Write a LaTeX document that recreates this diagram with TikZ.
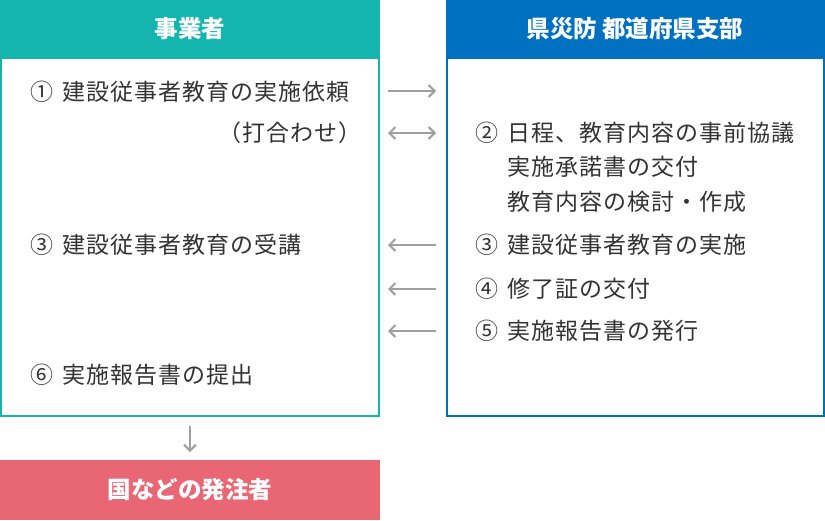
\documentclass[tikz,border=0pt]{standalone}
\usepackage{fontspec}
\setmainfont{Noto Sans CJK JP}
\newfontfamily\bodyfont{Noto Sans CJK JP}[LetterSpace=4.5]
\usetikzlibrary{arrows.meta,positioning}
\definecolor{teal}{HTML}{14B5AE}
\definecolor{pblue}{HTML}{0071C1}
\definecolor{pred}{HTML}{E96775}
\definecolor{agray}{HTML}{A0A0A0}
\definecolor{tgray}{HTML}{333333}
\newcommand{\numbox}[1]{\makebox[32pt][l]{#1}}

\begin{document}
\begin{tikzpicture}[x=1pt,y=-1pt,
  txt/.style={anchor=west, inner sep=0pt, text=tgray, font=\bodyfont\fontsize{23}{28}\selectfont},
  head/.style={text=white, font=\bfseries\fontsize{23.5}{27}\selectfont},
  flow/.style={agray, line width=2pt, -{Straight Barb[length=6pt,width=12pt]}},
  flowb/.style={agray, line width=2pt, {Straight Barb[length=6pt,width=12pt]}-{Straight Barb[length=6pt,width=12pt]}}]
  \useasboundingbox (0,0) rectangle (825,520);
  % boxes
  \fill[teal] (0,0) rectangle (380,58);
  \draw[teal, line width=2pt] (1,58) rectangle (379,416);
  \fill[pblue] (446,0) rectangle (825,58);
  \draw[pblue, line width=2pt] (447,58) rectangle (824,416);
  \fill[pred] (0,460) rectangle (380,520);
  \node[head] (jigyo) at (190,29) {事業者};
  \node[head] (kensai) at (635,29) {県災防 都道府県支部};
  \node[head] (hatchu) at (190,490) {国などの発注者};
  % left column
  \node[txt] (l1) at (30,92) {\numbox{①}建設従事者教育の実施依頼};
  \node[txt, anchor=east] (l1b) at (362,133) {（打合わせ）};
  \node[txt] (l3) at (30,245) {\numbox{③}建設従事者教育の受講};
  \node[txt] (l6) at (30,375) {\numbox{⑥}実施報告書の提出};
  % right column
  \node[txt] (r2) at (475,133) {\numbox{②}日程、教育内容の事前協議};
  \node[txt] (r2b) at (507,167) {実施承諾書の交付};
  \node[txt] (r2c) at (507,202) {教育内容の検討・作成};
  \node[txt] (r3) at (475,245) {\numbox{③}建設従事者教育の実施};
  \node[txt] (r4) at (475,289) {\numbox{④}修了証の交付};
  \node[txt] (r5) at (475,331) {\numbox{⑤}実施報告書の発行};
  % arrows
  \coordinate (a1) at (388,91);  \coordinate (b1) at (436,91);
  \coordinate (a2) at (388,133); \coordinate (b2) at (436,133);
  \coordinate (a3) at (388,245); \coordinate (b3) at (436,245);
  \coordinate (a4) at (388,289); \coordinate (b4) at (436,289);
  \coordinate (a5) at (388,331); \coordinate (b5) at (436,331);
  \coordinate (d1) at (190,426); \coordinate (d2) at (190,452);
  \draw[flow] (a1) -- (b1);
  \draw[flowb] (a2) -- (b2);
  \draw[flow] (b3) -- (a3);
  \draw[flow] (b4) -- (a4);
  \draw[flow] (b5) -- (a5);
  \draw[flow] (d1) -- (d2);
\end{tikzpicture}
\end{document}
